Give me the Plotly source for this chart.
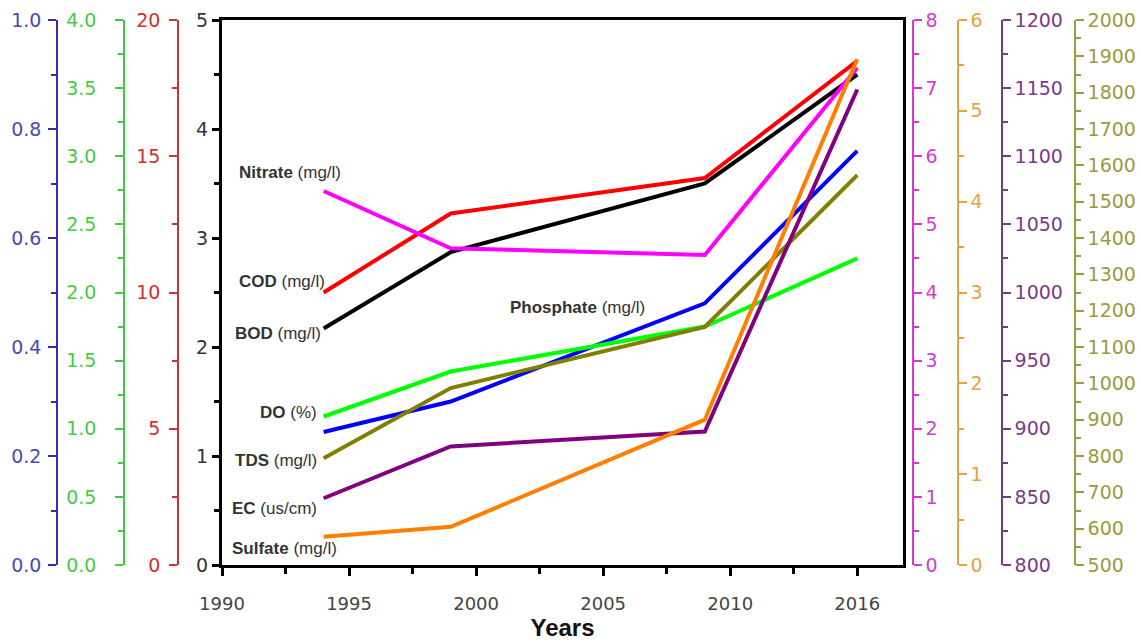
import plotly.graph_objects as go

# x positions of the sampling years on the (1990..2016) axis
years = [1994, 1999, 2009, 2015]

bod = [2.17, 2.87, 3.50, 4.50]          # black axis 0-5
cod = [10.0, 12.9, 14.2, 18.5]          # red axis 0-20
nitrate = [5.49, 4.65, 4.55, 7.30]      # magenta axis 0-8
phosphate = [0.244, 0.30, 0.48, 0.76]   # blue axis 0-1
do_pct = [1.09, 1.42, 1.75, 2.25]       # green axis 0-4
tds = [794, 987, 1155, 1573]            # olive axis 500-2000
ec = [849, 887, 898, 1149]              # purple axis 800-1200
sulfate = [0.31, 0.42, 1.60, 5.57]      # orange axis 0-6

x_tickvals = [1990, 1995, 2000, 2005, 2010, 2015]
x_ticktext = ["1990", "1995", "2000", "2005", "2010", "2016"]

W, H = 1141, 643
L_PX, R_PX = 222, 903
TOP_PX, BOT_PX = 20, 565

def px(x):
    return x / W

fig = go.Figure()

series = [
    (bod, "y", "#000000"),
    (cod, "y2", "#ff0000"),
    (nitrate, "y3", "#ff00ff"),
    (phosphate, "y4", "#0000ff"),
    (do_pct, "y5", "#00ff00"),
    (tds, "y6", "#808000"),
    (ec, "y7", "#800080"),
    (sulfate, "y8", "#ff8000"),
]
for vals, ax, col in [series[4], series[5], series[3], series[7], series[6], series[2], series[0], series[1]]:
    fig.add_trace(go.Scatter(x=years, y=vals, yaxis=ax, mode="lines",
                             line=dict(color=col, width=4), showlegend=False,
                             hoverinfo="skip"))

FONT = "Liberation Sans, Arial, sans-serif"
TFONT = "DejaVu Sans, sans-serif"

def side_axis(rng, dtick, minor, color, tcolor, pos, side, fmt=None, standoff=0):
    d = dict(range=rng, dtick=dtick, tick0=rng[0], overlaying="y", anchor="free",
             position=pos, side=side, showgrid=False, zeroline=False,
             showline=True, linecolor=color, linewidth=1.5,
             ticks="outside", ticklen=8, tickwidth=1.5, tickcolor=color,
             tickfont=dict(family=TFONT, size=19, color=tcolor),
             ticklabelstandoff=standoff,
             minor=dict(dtick=minor, ticks="outside", ticklen=5, tickwidth=1.5, tickcolor=color),
             automargin=False)
    if fmt:
        d["tickformat"] = fmt
    return d

fig.update_layout(
    width=W, height=H,
    margin=dict(l=0, r=0, t=TOP_PX, b=H - BOT_PX),
    paper_bgcolor="white", plot_bgcolor="white",
    xaxis=dict(domain=[px(L_PX), px(R_PX)], range=[1990, 2016.8],
               tickvals=x_tickvals, ticktext=x_ticktext,
               showgrid=False, zeroline=False,
               showline=True, linecolor="black", linewidth=3, mirror=True,
               ticks="outside", ticklen=8, tickwidth=3, tickcolor="black",
               minor=dict(tickvals=[1992.5, 1997.5, 2002.5, 2007.5, 2012.5],
                          ticks="outside", ticklen=6, tickwidth=3, tickcolor="black"),
               tickfont=dict(family=TFONT, size=18, color="#444444"),
               ticklabelstandoff=12,
               title=dict(text="<b>Years</b>", font=dict(family=FONT, size=24, color="#111111"),
                          standoff=4),
               automargin=False),
    yaxis=dict(range=[0, 5], dtick=1, showgrid=False, zeroline=False,
               showline=True, linecolor="black", linewidth=3, mirror=True,
               ticks="outside", ticklen=7, tickwidth=3, tickcolor="black",
               minor=dict(dtick=0.5, ticks="outside", ticklen=5, tickwidth=3, tickcolor="black"),
               tickfont=dict(family=TFONT, size=19, color="#333333"),
               automargin=False),
    yaxis2=side_axis([0, 20], 5, 2.5, "#cc3333", "#d03030", px(178), "left", standoff=5),
    yaxis3=side_axis([0, 8], 1, 0.5, "#dd33dd", "#d040d0", px(913), "right"),
    yaxis4=side_axis([0, 1], 0.2, 0.1, "#3030b0", "#4a4ab0", px(57), "left", ".1f", standoff=3),
    yaxis5=side_axis([0, 4], 0.5, 0.25, "#40cc40", "#44cc44", px(124), "left", ".1f", standoff=15),
    yaxis6=side_axis([500, 2000], 100, 50, "#9a9a40", "#9a9a40", px(1075), "right"),
    yaxis7=side_axis([800, 1200], 50, 25, "#7a3a8a", "#7a3a8a", px(1002), "right"),
    yaxis8=side_axis([0, 6], 1, 0.5, "#e8a040", "#e8a040", px(958), "right"),
)

labels = [
    ("Nitrate", " (mg/l)", 237, 172),
    ("COD", " (mg/l)", 237, 281),
    ("BOD", " (mg/l)", 233, 334),
    ("Phosphate", " (mg/l)", 508, 307),
    ("DO", " (%)", 258, 412),
    ("TDS", " (mg/l)", 233, 460),
    ("EC", " (us/cm)", 230, 508),
    ("Sulfate", " (mg/l)", 230, 548),
]
for name, unit, lx, ly in labels:
    fig.add_annotation(text=f"<b>{name}</b>{unit}", xref="paper", yref="paper",
                       x=lx / W, y=(BOT_PX - ly) / (BOT_PX - TOP_PX),
                       xanchor="left", yanchor="middle",
                       showarrow=False, font=dict(family=FONT, size=17, color="#333333"))

fig.write_html("out.html", config={"displayModeBar": False},
               post_script="document.body.style.margin='0';document.body.style.padding='0';")
